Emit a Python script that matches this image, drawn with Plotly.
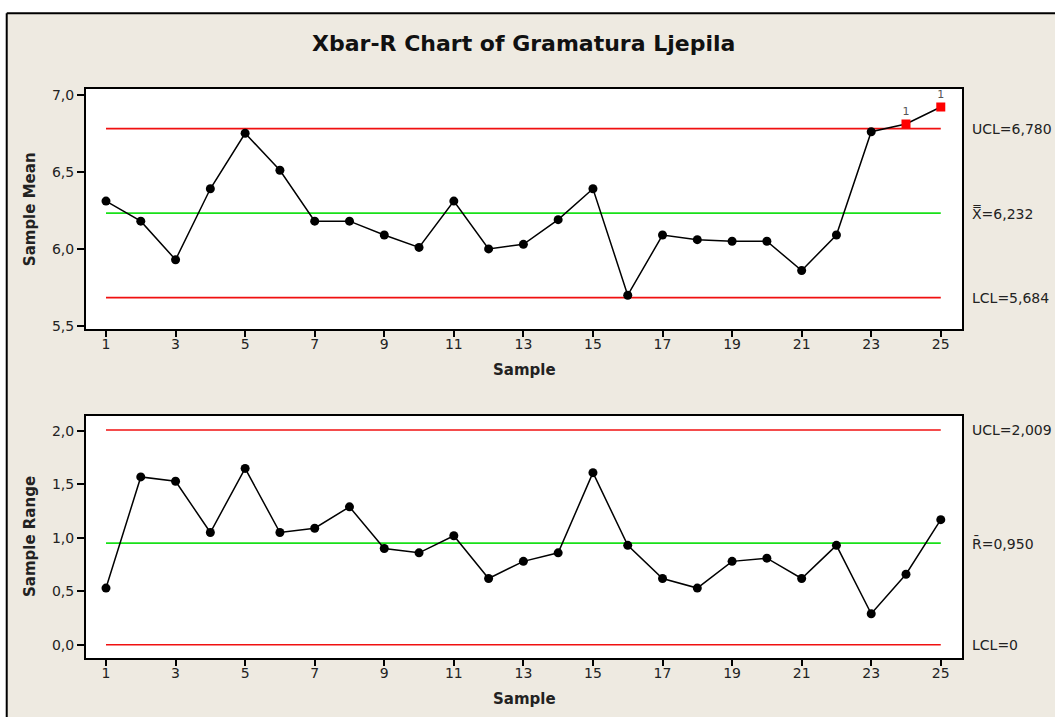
import plotly.graph_objects as go
from plotly.subplots import make_subplots

# ===============================
# DATOS
# ===============================
samples = list(range(1, 26))

xbar = [6.31, 6.18, 5.93, 6.39, 6.75, 6.51, 6.18, 6.18, 6.09, 6.01,
        6.31, 6.00, 6.03, 6.19, 6.39, 5.70, 6.09, 6.06, 6.05, 6.05,
        5.86, 6.09, 6.76, 6.81, 6.92]

rango = [0.53, 1.57, 1.53, 1.05, 1.65, 1.05, 1.09, 1.29, 0.90, 0.86,
         1.02, 0.62, 0.78, 0.86, 1.61, 0.93, 0.62, 0.53, 0.78, 0.81,
         0.62, 0.93, 0.29, 0.66, 1.17]

UCL_X, CL_X, LCL_X = 6.780, 6.232, 5.684
UCL_R, CL_R, LCL_R = 2.009, 0.950, 0.0

lbl_x = ["UCL=6,780", "X\u033f=6,232", "LCL=5,684"]
lbl_r = ["UCL=2,009", "R\u0304=0,950", "LCL=0"]

FONT = "DejaVu Sans"
BEIGE = "#EEEAE1"
ROJO = "#F01010"
VERDE = "#18E018"

fig = make_subplots(rows=2, cols=1)

# ===============================
# LINEAS DE CONTROL
# ===============================
def lineas(row, ucl, cl, lcl):
    for v, c in [(ucl, ROJO), (cl, VERDE), (lcl, ROJO)]:
        fig.add_trace(
            go.Scatter(x=[samples[0], samples[-1]], y=[v, v], mode="lines",
                       line=dict(color=c, width=1.7), hoverinfo="skip"),
            row=row, col=1
        )


def serie(row, vals, ucl, lcl):
    fuera = [(v > ucl or v < lcl) for v in vals]
    fig.add_trace(
        go.Scatter(
            x=samples, y=vals, mode="lines+markers+text",
            line=dict(color="black", width=1.5),
            marker=dict(
                symbol=["square" if f else "circle" for f in fuera],
                color=["#FF0000" if f else "black" for f in fuera],
                size=9,
                opacity=1,
                line=dict(width=0),
            ),
            text=["1" if f else "" for f in fuera],
            textposition="top center",
            textfont=dict(size=11, color="#555555", family=FONT),
        ),
        row=row, col=1
    )


lineas(1, UCL_X, CL_X, LCL_X)
serie(1, xbar, UCL_X, LCL_X)
lineas(2, UCL_R, CL_R, LCL_R)
serie(2, rango, UCL_R, LCL_R)

# ===============================
# EJES
# ===============================
eje = dict(showline=True, mirror=True, linecolor="black", linewidth=2,
           ticks="outside", ticklen=7, tickcolor="black", tickwidth=1.5,
           showgrid=False, zeroline=False,
           tickfont=dict(size=14, family=FONT, color="#222"))

fig.update_xaxes(range=[0.425, 25.61], tick0=1, dtick=2, **eje)
fig.update_xaxes(ticklen=6, ticklabelstandoff=-5)
fig.update_yaxes(**eje)
fig.update_yaxes(range=[5.479, 7.037], dtick=0.5, tickformat=".1f",
                 domain=[0.5777, 1.0], row=1, col=1)
fig.update_yaxes(range=[-0.124, 2.140], dtick=0.5, tickformat=".1f",
                 domain=[0.0, 0.4253], row=2, col=1)

# ===============================
# ANOTACIONES
# ===============================
anns = []
for yref, titulo in [("y", "Sample Mean"), ("y2", "Sample Range")]:
    anns.append(dict(text="<b>%s</b>" % titulo, xref="paper", x=-0.0639,
                     xanchor="center", yref=yref + " domain", y=0.5,
                     yanchor="middle", textangle=-90, showarrow=False,
                     font=dict(size=15, family=FONT, color="#222")))
    anns.append(dict(text="<b>Sample</b>", xref="paper", x=0.5,
                     xanchor="center", yref=yref + " domain", y=0,
                     yanchor="middle", yshift=-41, showarrow=False,
                     font=dict(size=15, family=FONT, color="#222")))

for yref, vals, lbls in [("y", [UCL_X, CL_X, LCL_X], lbl_x),
                         ("y2", [UCL_R, CL_R, LCL_R], lbl_r)]:
    for v, t in zip(vals, lbls):
        anns.append(dict(text=t, xref="paper", x=1.0091, xanchor="left",
                         yref=yref, y=v, yanchor="middle", showarrow=False,
                         font=dict(size=14, family=FONT, color="#222")))

anns.append(dict(text="<b>Xbar-R Chart of Gramatura Ljepila</b>", xref="paper",
                 x=0.4989, xanchor="center", yref="paper", y=1.0808,
                 yanchor="middle", showarrow=False,
                 font=dict(size=22, family=FONT, color="#111")))

# marco de la hoja
shapes = [
    dict(type="rect", xref="paper", yref="paper", x0=-0.2, x1=1.3,
         y0=1.133, y1=1.3, fillcolor="white", line=dict(width=0)),
    dict(type="rect", xref="paper", yref="paper", x0=-0.2, x1=-0.0905,
         y0=-0.2, y1=1.3, fillcolor="white", line=dict(width=0)),
    dict(type="line", xref="paper", yref="paper", x0=-0.0905, x1=1.3,
         y0=1.133, y1=1.133, line=dict(color="black", width=2)),
    dict(type="line", xref="paper", yref="paper", x0=-0.0905, x1=-0.0905,
         y0=-0.2, y1=1.133, line=dict(color="black", width=2)),
]

fig.update_layout(
    width=1055, height=717,
    margin=dict(l=86, r=93, t=89, b=59),
    paper_bgcolor=BEIGE, plot_bgcolor="white",
    separators=",.",
    showlegend=False,
    annotations=anns,
    shapes=shapes,
)

fig.write_html("out.html", config={"displayModeBar": False},
               post_script="document.body.style.margin='0';")
